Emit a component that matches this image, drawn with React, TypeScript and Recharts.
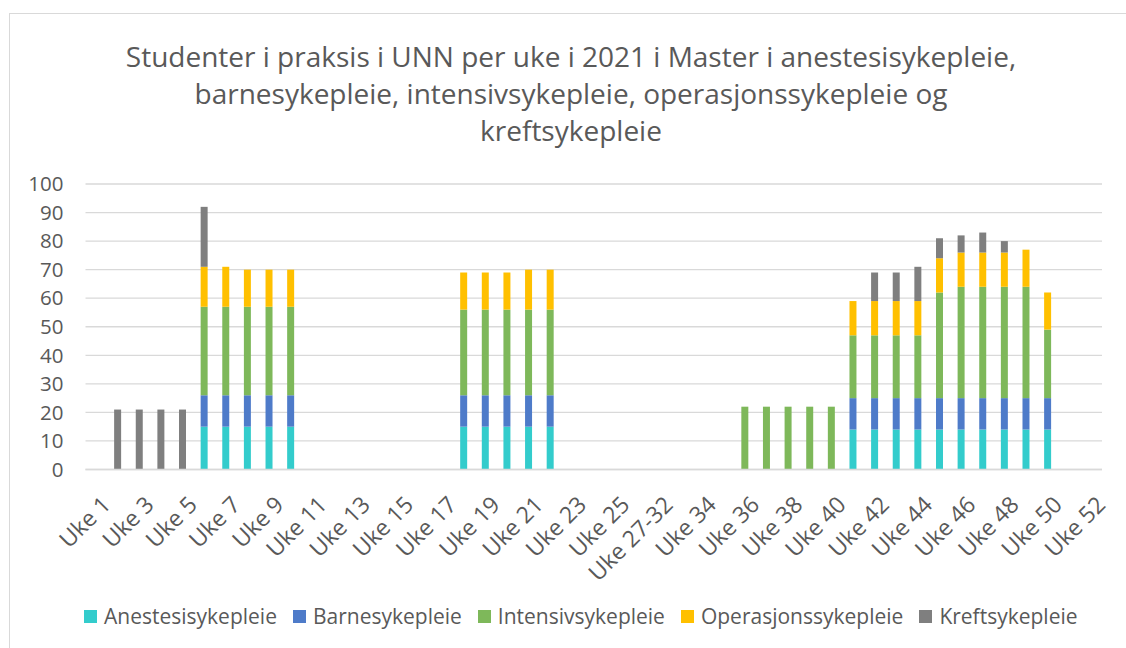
import React from 'react';
import { BarChart, Bar, XAxis, YAxis, CartesianGrid } from 'recharts';

const weeks = [
  'Uke 1', 'Uke 2', 'Uke 3', 'Uke 4', 'Uke 5', 'Uke 6', 'Uke 7', 'Uke 8', 'Uke 9', 'Uke 10',
  'Uke 11', 'Uke 12', 'Uke 13', 'Uke 14', 'Uke 15', 'Uke 16', 'Uke 17', 'Uke 18', 'Uke 19', 'Uke 20',
  'Uke 21', 'Uke 22', 'Uke 23', 'Uke 24', 'Uke 25', 'Uke 26', 'Uke 27-32', 'Uke 33', 'Uke 34', 'Uke 35',
  'Uke 36', 'Uke 37', 'Uke 38', 'Uke 39', 'Uke 40', 'Uke 41', 'Uke 42', 'Uke 43', 'Uke 44', 'Uke 45',
  'Uke 46', 'Uke 47', 'Uke 48', 'Uke 49', 'Uke 50', 'Uke 51', 'Uke 52',
];

// one value per week above, 0 where no students
const anestesi = [
  0, 0, 0, 0, 0, 15, 15, 15, 15, 15,
  0, 0, 0, 0, 0, 0, 0, 15, 15, 15,
  15, 15, 0, 0, 0, 0, 0, 0, 0, 0,
  0, 0, 0, 0, 0, 14, 14, 14, 14, 14,
  14, 14, 14, 14, 14, 0, 0,
];
const barn = [
  0, 0, 0, 0, 0, 11, 11, 11, 11, 11,
  0, 0, 0, 0, 0, 0, 0, 11, 11, 11,
  11, 11, 0, 0, 0, 0, 0, 0, 0, 0,
  0, 0, 0, 0, 0, 11, 11, 11, 11, 11,
  11, 11, 11, 11, 11, 0, 0,
];
const intensiv = [
  0, 0, 0, 0, 0, 31, 31, 31, 31, 31,
  0, 0, 0, 0, 0, 0, 0, 30, 30, 30,
  30, 30, 0, 0, 0, 0, 0, 0, 0, 0,
  22, 22, 22, 22, 22, 22, 22, 22, 22, 37,
  39, 39, 39, 39, 24, 0, 0,
];
const operasjon = [
  0, 0, 0, 0, 0, 14, 14, 13, 13, 13,
  0, 0, 0, 0, 0, 0, 0, 13, 13, 13,
  14, 14, 0, 0, 0, 0, 0, 0, 0, 0,
  0, 0, 0, 0, 0, 12, 12, 12, 12, 12,
  12, 12, 12, 13, 13, 0, 0,
];
const kreft = [
  0, 21, 21, 21, 21, 21, 0, 0, 0, 0,
  0, 0, 0, 0, 0, 0, 0, 0, 0, 0,
  0, 0, 0, 0, 0, 0, 0, 0, 0, 0,
  0, 0, 0, 0, 0, 0, 10, 10, 12, 7,
  6, 7, 4, 0, 0, 0, 0,
];

const yTicks = [0, 10, 20, 30, 40, 50, 60, 70, 80, 90, 100];

const series = [
  { key: 'anestesi', name: 'Anestesisykepleie', color: '#33CCCC' },
  { key: 'barn', name: 'Barnesykepleie', color: '#4E7BC9' },
  { key: 'intensiv', name: 'Intensivsykepleie', color: '#7EB85A' },
  { key: 'operasjon', name: 'Operasjonssykepleie', color: '#FFC000' },
  { key: 'kreft', name: 'Kreftsykepleie', color: '#7F7F7F' },
];

const data = weeks.map((week, i) => ({
  week,
  anestesi: anestesi[i],
  barn: barn[i],
  intensiv: intensiv[i],
  operasjon: operasjon[i],
  kreft: kreft[i],
}));

const FONT = '"Open Sans", "Noto Sans", sans-serif';
const TEXT = '#595959';

const WeekTick = (props: any) => {
  const { x, y, payload } = props;
  return (
    <g transform={`translate(${x + 4},${y + 25})`}>
      <text
        textAnchor="end"
        transform="rotate(-45)"
        dy="0.72em"
        fill={TEXT}
        fontSize={23}
        fontFamily={FONT}
      >
        {payload.value}
      </text>
    </g>
  );
};

export default function App() {
  return (
    <div style={{ position: 'absolute', left: 0, top: 0, width: 1126, height: 648, overflow: 'hidden', background: '#fff' }}>
      <div style={{ position: 'absolute', left: 9, top: 13, width: 1130, height: 650, border: '1px solid #d9d9d9' }} />
      <div
        style={{
          position: 'absolute', left: 0, top: 38, width: 1142, textAlign: 'center',
          fontFamily: FONT, fontSize: 28, lineHeight: '37px', color: TEXT,
        }}
      >
        Studenter i praksis i UNN per uke i 2021 i Master i anestesisykepleie,
        <br />
        barnesykepleie, intensivsykepleie, operasjonssykepleie og
        <br />
        kreftsykepleie
      </div>
      <div style={{ position: 'absolute', left: 0, top: 0 }}>
        <BarChart
          width={1126}
          height={648}
          data={data}
          margin={{ top: 184, right: 24, left: 25.5, bottom: 78.5 }}
          barSize={7}
        >
          <CartesianGrid vertical={false} stroke="#d9d9d9" strokeWidth={1.3} />
          <XAxis
            dataKey="week"
            interval={1}
            axisLine={{ stroke: '#d9d9d9', strokeWidth: 1.3 }}
            tickLine={false}
            tickSize={0}
            tickMargin={0}
            height={100}
            tick={<WeekTick />}
          />
          <YAxis
            width={60}
            domain={[0, 100]}
            ticks={yTicks}
            interval={0}
            axisLine={false}
            tickLine={false}
            tickSize={0}
            tickMargin={22}
            tick={{ fill: TEXT, fontSize: 20.5, fontFamily: FONT }}
          />
          {series.map((s) => (
            <Bar key={s.key} dataKey={s.key} name={s.name} stackId="a" fill={s.color} isAnimationActive={false} />
          ))}
        </BarChart>
      </div>
      <div
        style={{
          position: 'absolute', left: 84, top: 602, height: 29, display: 'flex', alignItems: 'center', gap: 16,
          fontFamily: FONT, fontSize: 21, lineHeight: '29px', color: TEXT, whiteSpace: 'nowrap',
        }}
      >
        {series.map((s) => (
          <div key={s.key} style={{ display: 'flex', alignItems: 'center' }}>
            <span style={{ display: 'inline-block', width: 13, height: 13, background: s.color, marginRight: 7 }} />
            <span>{s.name}</span>
          </div>
        ))}
      </div>
    </div>
  );
}
